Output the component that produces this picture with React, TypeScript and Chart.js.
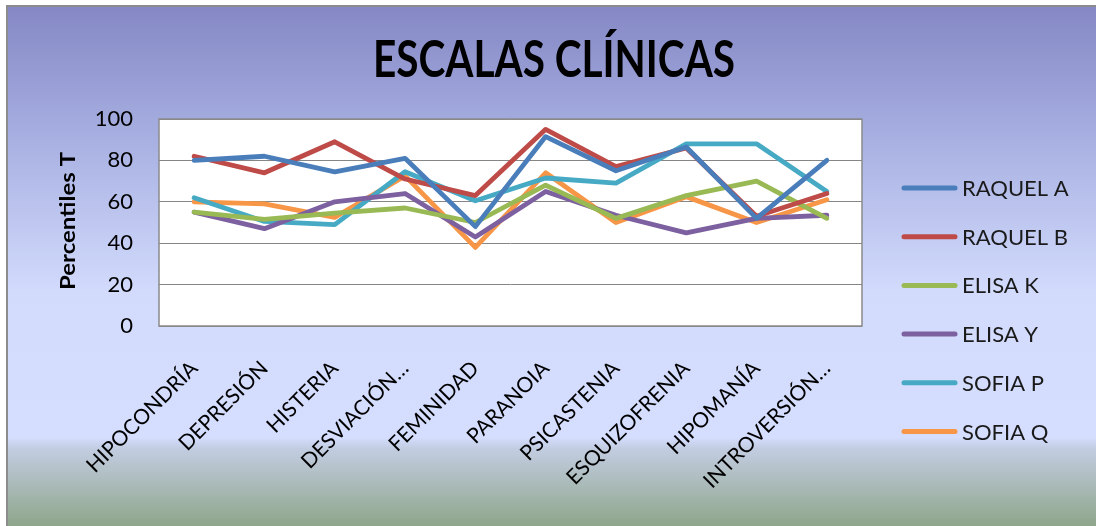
import React, { useEffect, useRef } from "react";
import { Chart, registerables } from "chart.js";

Chart.register(...registerables);

const chartTitle = "ESCALAS CLÍNICAS";
const yAxisTitle = "Percentiles T";
const categories = [
  "HIPOCONDRÍA",
  "DEPRESIÓN",
  "HISTERIA",
  "DESVIACIÓN…",
  "FEMINIDAD",
  "PARANOIA",
  "PSICASTENIA",
  "ESQUIZOFRENIA",
  "HIPOMANÍA",
  "INTROVERSIÓN…",
];
const seriesNames = ["RAQUEL A", "RAQUEL B", "ELISA K", "ELISA Y", "SOFIA P", "SOFIA Q"];
const raquelA = [80, 82, 74.5, 81, 48, 91.5, 75, 86.5, 52, 80];
const raquelB = [82, 74, 89, 71, 63, 95, 77, 86, 53, 64];
const elisaK = [55, 51.5, 54.5, 57, 50, 68, 52, 63, 70, 52];
const elisaY = [55, 47, 60, 64, 43, 65, 53.5, 45, 52, 53.5];
const sofiaP = [62, 50.5, 49, 74.5, 60.5, 71.5, 69, 88, 88, 65];
const sofiaQ = [60, 59, 52.5, 72.5, 38, 74, 50, 62.5, 50, 61];
const seriesColors = ["#4A7EBB", "#BE4B48", "#98B954", "#7D60A0", "#46AAC5", "#F79646"];
const yTicks = [0, 20, 40, 60, 80, 100];

const W = 1096;
const H = 526;
const FONT = "Lato, 'Open Sans', sans-serif";

function fitText(ctx: any, text: string, cx: number, cy: number, width: number, rot: number) {
  const w = ctx.measureText(text).width;
  ctx.save();
  ctx.translate(cx, cy);
  ctx.rotate(rot);
  ctx.scale(width / w, 1);
  ctx.textAlign = "center";
  ctx.fillText(text, 0, 0);
  ctx.restore();
}

const backgroundPlugin = {
  id: "bgPlugin",
  beforeDraw(chart: any) {
    const ctx = chart.ctx;
    const ca = chart.chartArea;
    ctx.save();
    ctx.fillStyle = "#ffffff";
    ctx.fillRect(0, 0, W, H);
    const g = ctx.createLinearGradient(0, 5, 0, H);
    g.addColorStop(0, "#8487c4");
    g.addColorStop(0.25, "#a7afe1");
    g.addColorStop(0.55, "#d2dbfc");
    g.addColorStop(0.83, "#d5defe");
    g.addColorStop(0.85, "#c3cde2");
    g.addColorStop(1, "#8ea68a");
    ctx.fillStyle = g;
    ctx.fillRect(6, 5, W - 6, H - 5);
    ctx.fillStyle = "#8c8c8c";
    ctx.fillRect(6, 5, W - 6, 2);
    ctx.fillRect(6, 5, 2, H - 5);
    ctx.fillStyle = "#ffffff";
    ctx.fillRect(ca.left, ca.top, ca.right - ca.left, ca.bottom - ca.top);
    ctx.restore();
  },
  beforeDatasetsDraw(chart: any) {
    const ctx = chart.ctx;
    const ca = chart.chartArea;
    ctx.save();
    ctx.strokeStyle = "#8a8a8a";
    ctx.lineWidth = 1.5;
    ctx.strokeRect(ca.left, ca.top, ca.right - ca.left, ca.bottom - ca.top);
    ctx.restore();
  },
  afterDraw(chart: any) {
    const ctx = chart.ctx;
    ctx.save();
    ctx.fillStyle = "#000000";
    ctx.textBaseline = "alphabetic";
    ctx.font = `bold 52px ${FONT}`;
    fitText(ctx, chartTitle, 554, 77, 362, 0);
    ctx.textBaseline = "middle";
    ctx.font = `bold 21px ${FONT}`;
    fitText(ctx, yAxisTitle, 68, 221, 138, -Math.PI / 2);
    ctx.restore();

    // legend
    ctx.save();
    ctx.font = `22px ${FONT}`;
    ctx.textAlign = "left";
    ctx.textBaseline = "middle";
    chart.data.datasets.forEach((ds: any, i: number) => {
      const y = 188 + i * 48.7;
      ctx.strokeStyle = ds.borderColor;
      ctx.lineWidth = 5;
      ctx.lineCap = "round";
      ctx.beginPath();
      ctx.moveTo(904, y);
      ctx.lineTo(955, y);
      ctx.stroke();
      ctx.fillStyle = "#1a1a1a";
      ctx.fillText(ds.label, 962, y + 1);
    });
    ctx.restore();
  },
};

export default function App() {
  const ref = useRef<HTMLCanvasElement | null>(null);
  useEffect(() => {
    if (!ref.current) return;
    const values = [raquelA, raquelB, elisaK, elisaY, sofiaP, sofiaQ];
    const chart = new Chart(ref.current, {
      type: "line",
      data: {
        labels: categories,
        datasets: values.map((v, i) => ({
          label: seriesNames[i],
          data: v,
          borderColor: seriesColors[i],
          backgroundColor: seriesColors[i],
          borderWidth: 4.8,
          pointRadius: 0,
          tension: 0,
          borderJoinStyle: "round" as const,
          borderCapStyle: "round" as const,
          fill: false,
        })),
      },
      options: {
        responsive: false,
        animation: false,
        devicePixelRatio: 1,
        layout: { padding: { left: 0, top: 119, right: W - 862, bottom: 0 } },
        plugins: {
          legend: { display: false },
          title: { display: false },
          tooltip: { enabled: false },
        },
        scales: {
          x: {
            type: "category",
            offset: true,
            grid: { display: false, drawTicks: false },
            border: { display: false },
            ticks: {
              autoSkip: false,
              minRotation: 45,
              maxRotation: 45,
              padding: 30,
              color: "#000000",
              font: { family: FONT, size: 21 },
            },
            afterFit(scale: any) {
              scale.height = H - 326;
            },
          },
          y: {
            min: 0,
            max: 100,
            afterBuildTicks(scale: any) {
              scale.ticks = yTicks.map((v) => ({ value: v }));
            },
            grid: { color: "#868686", lineWidth: 1, drawTicks: false },
            border: { display: false },
            ticks: {
              padding: 26,
              color: "#000000",
              font: { family: FONT, size: 22 },
            },
            afterFit(scale: any) {
              scale.width = 159;
            },
          },
        },
      },
      plugins: [backgroundPlugin],
    });
    return () => chart.destroy();
  }, []);
  return (
    <div style={{ position: "absolute", left: 0, top: 0, width: W, height: H }}>
      <canvas ref={ref} width={W} height={H} style={{ display: "block", width: W, height: H }} />
    </div>
  );
}
